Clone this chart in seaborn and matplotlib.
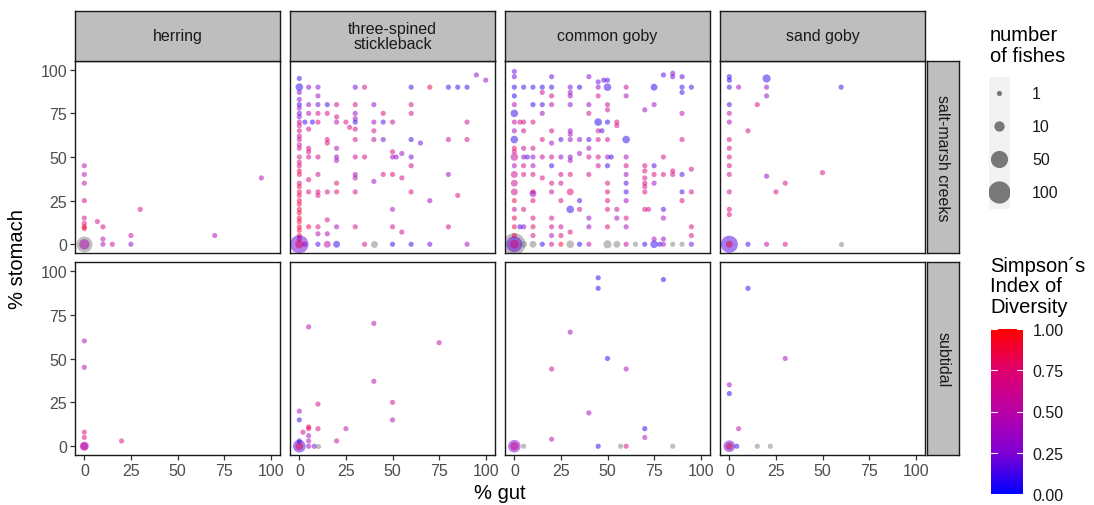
import numpy as np
import pandas as pd
import matplotlib
matplotlib.use("Agg")
import matplotlib.pyplot as plt
import seaborn as sns
from matplotlib.colors import LinearSegmentedColormap, Normalize
from matplotlib.cm import ScalarMappable

# ---------------------------------------------------------------------------
# data: (% gut, % stomach, Simpson's index (None = no prey), number of fishes)
# ---------------------------------------------------------------------------
species = ["herring", "three-spined\nstickleback", "common goby", "sand goby"]
habitats = ["salt-marsh creeks", "subtidal"]
axis_ticks = [0, 25, 50, 75, 100]
simpson_ticks = [0.0, 0.25, 0.5, 0.75, 1.0]
fish_breaks = [1, 10, 50, 100]

herring_marsh = [
    (0, 0, None, 40), (0, 0, 0.45, 10), (0, 45, 0.5, 1), (0, 40, 0.5, 1), (0, 35, 0.55, 1),
    (0, 25, 0.65, 1), (0, 15, 0.65, 1), (0, 12, 0.75, 1), (0, 10, 0.85, 1), (0, 9, 0.9, 1),
    (7, 13, 0.7, 1), (10, 10, 0.65, 1), (30, 20, 0.7, 1), (25, 5, 0.6, 1), (25, 0, 0.3, 1),
    (15, 0, 0.6, 1), (10, 3, 0.45, 1), (10, 0, 0.45, 1), (70, 5, 0.45, 1), (95, 38, 0.4, 1),
]

stickleback_marsh = [
    (0, 95, 0.1, 1), (95, 97, 0.25, 1), (100, 94, 0.35, 1),
    (0, 90, 0.05, 3), (5, 90, 0.25, 1), (10, 90, 0.25, 1), (30, 90, 0.2, 1), (35, 90, 0.6, 1),
    (60, 90, 0.1, 1), (70, 90, 0.8, 1), (80, 90, 0.1, 1), (85, 90, 0.1, 1), (90, 90, 0.1, 1),
    (0, 87, 0.3, 1), (10, 85, 0.35, 1), (0, 83, 0.3, 1),
    (0, 80, 0.1, 1), (5, 80, 0.35, 1), (10, 80, 0.2, 1), (15, 80, 0.1, 1), (20, 80, 0.6, 1),
    (30, 80, 0.65, 1), (40, 80, 0.3, 1), (60, 80, 0.65, 1), (0, 78, 0.35, 1),
    (0, 75, 0.2, 1), (5, 75, 0.5, 1), (10, 75, 0.65, 1), (15, 75, 0.65, 1), (30, 75, 0.3, 1),
    (45, 75, 0.7, 1), (60, 75, 0.6, 1), (20, 73, 0.65, 1), (30, 72, 0.4, 1), (0, 73, 0.3, 1),
    (0, 70, 0.55, 1), (3, 70, 0.1, 1), (7, 70, 0.1, 1), (10, 70, 0.7, 1), (20, 70, 0.5, 1),
    (25, 70, 0.7, 1), (30, 70, 0.1, 1), (40, 70, 0.4, 1), (45, 70, 0.15, 1), (50, 70, 0.55, 1),
    (90, 70, 0.6, 1), (27, 67, 0.7, 1), (5, 66, 0.7, 1), (30, 66, 0.7, 1), (0, 68, 0.6, 1),
    (0, 65, 0.7, 1), (40, 65, 0.65, 1), (0, 62, 0.55, 1),
    (0, 60, 0.6, 1), (15, 60, 0.7, 1), (30, 60, 0.65, 1), (40, 60, 0.55, 1), (45, 60, 0.2, 1),
    (60, 60, 0.1, 1), (80, 60, 0.6, 1), (90, 60, 0.7, 1), (15, 58, 0.7, 1), (65, 58, 0.25, 1),
    (0, 57, 0.6, 1), (0, 55, 0.6, 1), (5, 55, 0.65, 1), (20, 55, 0.4, 1),
    (5, 53, 0.7, 1), (50, 53, 0.7, 1), (55, 52, 0.4, 1),
    (0, 50, 0.7, 1), (5, 50, 0.65, 1), (10, 50, 0.65, 1), (20, 50, 0.35, 1), (30, 50, 0.6, 1),
    (35, 50, 0.7, 1), (50, 50, 0.4, 1), (52, 50, 0.3, 1), (60, 50, 0.2, 1), (20, 48, 0.4, 1),
    (0, 47, 0.7, 1), (0, 45, 0.7, 1), (60, 45, 0.6, 1), (0, 42, 0.8, 1),
    (0, 40, 0.8, 1), (10, 40, 0.6, 1), (30, 40, 0.4, 1), (45, 40, 0.7, 1), (50, 40, 0.7, 1),
    (80, 40, 0.35, 1), (30, 38, 0.45, 1), (55, 38, 0.7, 1), (40, 36, 0.35, 1),
    (0, 35, 0.7, 1), (5, 37, 0.7, 1), (20, 35, 0.75, 1), (0, 33, 0.85, 1),
    (0, 30, 0.85, 1), (5, 30, 0.7, 1), (10, 30, 0.7, 1), (15, 30, 0.65, 1), (20, 30, 0.75, 1),
    (30, 30, 0.7, 1), (60, 30, 0.7, 1), (10, 28, 0.7, 1), (85, 28, 0.7, 1), (0, 28, 0.85, 1),
    (0, 25, 0.85, 1), (70, 25, 0.35, 1), (0, 23, 0.85, 1),
    (0, 20, 0.85, 1), (50, 20, 0.4, 1), (0, 18, 0.9, 1),
    (0, 15, 0.9, 1), (15, 14, 0.7, 1), (0, 13, 0.9, 1),
    (0, 10, 0.9, 1), (5, 10, 0.85, 1), (10, 10, 0.75, 1), (20, 10, 0.4, 1), (30, 10, 0.65, 1),
    (50, 10, 0.65, 1), (80, 10, 0.65, 1), (0, 8, 0.9, 1),
    (55, 7, 0.6, 1), (10, 6, 0.45, 1), (15, 6, 0.45, 1), (0, 5, 0.9, 1), (0, 3, 0.9, 1),
    (0, 0, 0.2, 60), (0, 0, 0.8, 4), (3, 0, 0.4, 1), (10, 0, 0.15, 1), (15, 0, 0.55, 2),
    (20, 0, 0.1, 2), (35, 0, 0.65, 1), (40, 0, None, 2), (50, 0, 0.1, 1), (60, 0, 0.1, 1),
    (70, 0, 0.2, 1), (90, 0, 0.4, 1),
]

goby_marsh = [
    (0, 99, 0.2, 1), (0, 96, 0.2, 1), (20, 96, 0.2, 1), (40, 96, 0.25, 1), (45, 93, 0.2, 1),
    (48, 94, 0.15, 1), (50, 94, 0.15, 1), (80, 97, 0.15, 1), (85, 98, 0.25, 1), (85, 96, 0.2, 1),
    (90, 96, 0.15, 1),
    (0, 90, 0.05, 1), (5, 90, 0.1, 1), (10, 90, 0.1, 1), (15, 90, 0.05, 1), (20, 90, 0.1, 1),
    (30, 90, 0.2, 1), (35, 90, 0.05, 1), (45, 90, 0.3, 1), (50, 90, 0.1, 3), (60, 90, 0.6, 1),
    (75, 90, 0.05, 2), (90, 90, 0.1, 1), (95, 90, 0.1, 1),
    (15, 87, 0.65, 1), (30, 87, 0.35, 1), (90, 87, 0.1, 1),
    (0, 85, 0.05, 1), (20, 85, 0.65, 1), (30, 85, 0.35, 1), (45, 85, 0.65, 1), (60, 85, 0.4, 1),
    (0, 80, 0.5, 1), (10, 80, 0.05, 1), (15, 80, 0.15, 1), (20, 80, 0.55, 1), (30, 80, 0.25, 1),
    (40, 80, 0.35, 1), (50, 80, 0.5, 1), (75, 80, 0.35, 1), (50, 77, 0.65, 1), (70, 77, 0.35, 1),
    (0, 75, 0.1, 3), (15, 75, 0.35, 1), (40, 75, 0.65, 1), (90, 75, 0.5, 1),
    (0, 70, 0.55, 1), (3, 70, 0.65, 1), (5, 70, 0.65, 1), (10, 70, 0.7, 1), (45, 70, 0.05, 3),
    (50, 70, 0.05, 1), (55, 70, 0.65, 1), (55, 68, 0.65, 1),
    (0, 65, 0.4, 1), (5, 65, 0.65, 1), (20, 65, 0.7, 1), (30, 65, 0.35, 1), (45, 65, 0.65, 1),
    (47, 65, 0.15, 1), (30, 63, 0.4, 1),
    (0, 60, 0.1, 3), (15, 60, 0.7, 1), (25, 60, 0.15, 1), (30, 60, 0.35, 1), (35, 60, 0.3, 1),
    (40, 60, 0.15, 1), (45, 60, 0.65, 1), (50, 60, 0.65, 1), (60, 60, 0.1, 3), (90, 60, 0.65, 1),
    (20, 58, 0.35, 1),
    (0, 55, 0.8, 1), (5, 55, 0.6, 1), (10, 55, 0.65, 1), (40, 55, 0.4, 1), (0, 53, 0.7, 1),
    (35, 52, 0.35, 1),
    (0, 50, 0.55, 3), (5, 50, 0.3, 1), (7, 50, 0.15, 1), (10, 50, 0.3, 1), (15, 50, 0.55, 1),
    (20, 50, 0.6, 1), (25, 50, 0.3, 1), (30, 50, 0.3, 1), (40, 50, 0.65, 1), (45, 50, 0.65, 1),
    (50, 50, 0.4, 1), (52, 50, 0.1, 1), (60, 50, 0.4, 1), (80, 50, 0.65, 1), (30, 48, 0.35, 1),
    (0, 45, 0.45, 1), (5, 45, 0.65, 1), (10, 45, 0.4, 1), (20, 45, 0.1, 1), (45, 45, 0.65, 1),
    (50, 45, 0.1, 1), (60, 45, 0.7, 1), (70, 45, 0.7, 1), (75, 45, 0.15, 1),
    (95, 43, 0.7, 1), (85, 42, 0.7, 1), (70, 42, 0.7, 1),
    (0, 40, 0.6, 2), (5, 40, 0.7, 1), (10, 40, 0.65, 1), (25, 40, 0.6, 1), (30, 40, 0.75, 1),
    (40, 40, 0.6, 1), (60, 40, 0.35, 1), (75, 40, 0.7, 1), (80, 40, 0.7, 1), (85, 40, 0.7, 1),
    (90, 40, 0.15, 1), (15, 38, 0.7, 1), (70, 38, 0.7, 1),
    (0, 35, 0.6, 2), (20, 35, 0.7, 1), (25, 35, 0.6, 1), (50, 35, 0.7, 1), (60, 35, 0.15, 1),
    (70, 35, 0.7, 1), (75, 35, 0.35, 1), (70, 33, 0.7, 1),
    (0, 30, 0.6, 2), (10, 30, 0.7, 1), (20, 30, 0.6, 1), (30, 30, 0.75, 2), (50, 30, 0.7, 1),
    (60, 30, 0.15, 1), (70, 30, 0.7, 1), (90, 30, 0.15, 1), (95, 30, 0.7, 1), (10, 29, 0.35, 2),
    (0, 25, 0.85, 1), (10, 25, 0.7, 1), (25, 25, 0.7, 1), (35, 25, 0.15, 1), (50, 25, 0.7, 1),
    (60, 25, 0.35, 1), (90, 25, 0.7, 1),
    (0, 20, 0.6, 1), (5, 20, 0.7, 1), (30, 20, 0.1, 3), (35, 20, 0.7, 1), (50, 20, 0.7, 1),
    (55, 20, 0.6, 1), (70, 20, 0.7, 1), (72, 20, 0.6, 1), (80, 20, 0.15, 1),
    (0, 15, 0.85, 1), (10, 15, 0.7, 1), (20, 15, 0.7, 1), (40, 15, 0.35, 1), (55, 15, 0.4, 1),
    (60, 15, 0.7, 1), (80, 15, 0.4, 1),
    (0, 10, 0.85, 1), (3, 10, 0.1, 1), (5, 10, 0.3, 1), (10, 10, 0.8, 1), (20, 10, 0.6, 1),
    (25, 10, 0.55, 1), (40, 10, 0.35, 1), (50, 10, 0.7, 1), (60, 10, 0.4, 1), (95, 10, 0.7, 1),
    (30, 7, 0.7, 1), (0, 5, 0.85, 1), (10, 5, 0.7, 1), (20, 5, 0.4, 1), (25, 5, 0.7, 1),
    (95, 5, 0.7, 1), (75, 3, 0.4, 1), (80, 3, 0.35, 1),
    (0, 0, None, 100), (0, 0, 0.2, 40), (0, 0, 0.7, 5), (5, 0, None, 2), (10, 0, None, 2),
    (15, 0, 0.1, 1), (20, 0, 0.55, 1), (25, 0, 0.9, 1), (30, 0, None, 3), (35, 0, 0.05, 1),
    (40, 0, 0.55, 1), (50, 0, None, 4), (55, 0, None, 2), (60, 0, 0.55, 1), (65, 0, None, 1),
    (70, 0, 0.1, 1), (75, 0, 0.1, 3), (78, 0, 0.1, 1), (80, 0, 0.4, 1), (85, 0, None, 1),
    (90, 0, None, 1), (95, 0, 0.2, 1),
]

sandgoby_marsh = [
    (0, 96, 0.1, 1), (0, 94, 0.05, 1), (20, 95, 0.1, 4), (0, 90, 0.1, 1), (5, 90, 0.35, 1),
    (20, 90, 0.35, 1), (60, 90, 0.1, 1), (20, 85, 0.35, 1), (0, 80, 0.15, 1), (15, 80, 0.7, 1),
    (0, 75, 0.5, 1), (0, 70, 0.45, 1), (10, 65, 0.65, 1), (0, 60, 0.7, 1), (0, 55, 0.7, 1),
    (0, 50, 0.7, 1), (0, 45, 0.7, 1), (50, 41, 0.65, 1), (0, 40, 0.6, 1), (20, 39, 0.3, 1),
    (30, 35, 0.7, 1), (0, 30, 0.65, 1), (25, 30, 0.7, 1), (0, 20, 0.7, 1), (0, 17, 0.7, 1),
    (0, 0, 0.15, 50), (0, 0, 0.85, 2), (10, 0, 0.1, 1), (20, 0, 0.5, 1), (30, 0, 0.7, 1),
    (60, 0, None, 1),
]

herring_subtidal = [
    (0, 0, 0.45, 6), (0, 0, 0.5, 3), (0, 60, 0.45, 1), (0, 45, 0.45, 1), (0, 8, 0.7, 1),
    (0, 5, 0.7, 1), (20, 3, 0.7, 1),
]

stickleback_subtidal = [
    (0, 0, 0.15, 20), (0, 0, 0.85, 3), (5, 68, 0.45, 1), (40, 70, 0.45, 1), (75, 59, 0.5, 1),
    (40, 37, 0.45, 1), (10, 24, 0.65, 1), (50, 25, 0.65, 1), (50, 15, 0.45, 1), (0, 20, 0.4, 1),
    (0, 15, 0.1, 1), (5, 11, 0.85, 1), (5, 10, 0.75, 1), (10, 10, 0.7, 1), (2, 8, 0.65, 1),
    (5, 6, 0.4, 1), (25, 10, 0.45, 1), (5, 3, 0.4, 1), (20, 3, 0.6, 1), (0, 3, 0.1, 1),
    (5, 0, 0.35, 1), (8, 0, 0.25, 1), (10, 0, None, 1),
]

goby_subtidal = [
    (0, 0, 0.3, 20), (0, 0, 0.6, 4), (5, 0, None, 1), (45, 96, 0.05, 1), (45, 90, 0.05, 1),
    (80, 95, 0.05, 1), (30, 65, 0.4, 1), (50, 50, 0.05, 1), (20, 44, 0.55, 1), (60, 44, 0.45, 1),
    (40, 19, 0.4, 1), (70, 10, 0.05, 1), (70, 5, 0.45, 1), (20, 4, 0.5, 1), (45, 0, 0.05, 1),
    (57, 0, None, 1), (60, 0, 0.7, 1), (85, 0, None, 1),
]

sandgoby_subtidal = [
    (0, 0, 0.2, 15), (0, 0, 0.85, 2), (10, 90, 0.05, 1), (30, 50, 0.4, 1), (0, 35, 0.4, 1),
    (0, 30, 0.05, 1), (5, 10, 0.5, 1), (4, 0, 0.1, 1), (15, 0, None, 1), (22, 0, None, 1),
]

panels = [
    [herring_marsh, stickleback_marsh, goby_marsh, sandgoby_marsh],
    [herring_subtidal, stickleback_subtidal, goby_subtidal, sandgoby_subtidal],
]

# ---------------------------------------------------------------------------
# styling
# ---------------------------------------------------------------------------
sns.set_theme(style="white")
plt.rcParams["font.family"] = ["Liberation Sans", "DejaVu Sans"]

W, H = 1094, 506
fig = plt.figure(figsize=(W / 100, H / 100), dpi=100)


def rect(x0, y0, x1, y1):
    return [x0 / W, 1 - y1 / H, (x1 - x0) / W, (y1 - y0) / H]


cmap = LinearSegmentedColormap.from_list(
    "simpson",
    [(0.0, "#0000FF"), (0.25, "#8000D5"), (0.5, "#B800A6"), (0.75, "#E0006F"), (1.0, "#FF0000")],
)
norm = Normalize(0, 1)


def marker_area(n):
    d_px = 5.2 + 17.0 * np.sqrt((np.asarray(n, float) - 1) / 99)
    return (d_px * 0.72) ** 2


col_x = [(75, 280), (290, 495), (505, 710), (720, 925)]
row_y = [(62, 254), (263, 456)]
tick_col = "#333333"
txt_col = "#4D4D4D"
strip_fill = "#BEBEBE"

for r, (y0, y1) in enumerate(row_y):
    for c, (x0, x1) in enumerate(col_x):
        ax = fig.add_axes(rect(x0, y0, x1, y1))
        df = pd.DataFrame(panels[r][c], columns=["gut", "stomach", "simpson", "n"])
        df["simpson"] = pd.to_numeric(df["simpson"])
        empty = df[df["simpson"].isna()]
        filled = df[df["simpson"].notna()]
        if len(empty):
            sns.scatterplot(data=empty, x="gut", y="stomach", size="n",
                            sizes={v: float(marker_area(v)) for v in empty["n"].unique()},
                            color="#7F7F7F", alpha=0.5, linewidth=0, legend=False, ax=ax)
        sns.scatterplot(data=filled, x="gut", y="stomach", hue="simpson", palette=cmap,
                        hue_norm=(0, 1), size="n",
                        sizes={v: float(marker_area(v)) for v in filled["n"].unique()},
                        alpha=0.5, linewidth=0, legend=False, ax=ax)
        ax.set_xlim(-5, 105)
        ax.set_ylim(-5, 105)
        ax.set_xticks(axis_ticks)
        ax.set_yticks(axis_ticks)
        ax.set_xlabel("")
        ax.set_ylabel("")
        ax.set_facecolor("white")
        for sp in ax.spines.values():
            sp.set_visible(True)
            sp.set_color("#1A1A1A")
            sp.set_linewidth(1.0)
        ax.tick_params(axis="both", length=3.5, width=0.9, color=tick_col,
                       labelsize=11.5, labelcolor=txt_col, pad=2)
        ax.tick_params(axis="x", bottom=(r == 1), labelbottom=(r == 1))
        ax.tick_params(axis="y", left=(c == 0), labelleft=(c == 0))

        # top strips
        if r == 0:
            sax = fig.add_axes(rect(x0, 12, x1, 62))
            sax.set_facecolor(strip_fill)
            sax.set_xticks([])
            sax.set_yticks([])
            for sp in sax.spines.values():
                sp.set_color("#1A1A1A")
                sp.set_linewidth(1.0)
            sax.text(0.5, 0.5, species[c], ha="center", va="center", fontsize=11.5,
                     color="#1A1A1A", transform=sax.transAxes, linespacing=1.05)

    # right strips
    rax = fig.add_axes(rect(927, y0, 959, y1))
    rax.set_facecolor(strip_fill)
    rax.set_xticks([])
    rax.set_yticks([])
    for sp in rax.spines.values():
        sp.set_color("#1A1A1A")
        sp.set_linewidth(1.0)
    rax.text(0.5, 0.5, habitats[r], ha="center", va="center", rotation=-90, fontsize=11.5,
             color="#1A1A1A", transform=rax.transAxes)

# axis titles
fig.text(18 / W, 1 - 259 / H, "% stomach", rotation=90, ha="center", va="center",
         fontsize=14.5, color="black")
fig.text(500 / W, 1 - 494 / H, "% gut", ha="center", va="center", fontsize=14.5,
         color="black")

# size legend
fig.text(990 / W, 1 - 46 / H, "number\nof fishes", ha="left", va="center", fontsize=14.5,
         color="black", linespacing=1.1)
lax = fig.add_axes(rect(989, 78, 1010, 210))
lax.set_facecolor("#F2F2F2")
for sp in lax.spines.values():
    sp.set_visible(False)
lax.set_xticks([])
lax.set_yticks([])
key_df = pd.DataFrame({"x": [0.5] * len(fish_breaks),
                       "y": np.arange(len(fish_breaks)) + 0.5,
                       "n": fish_breaks})
sns.scatterplot(data=key_df, x="x", y="y", size="n",
                sizes={v: float(marker_area(v)) for v in fish_breaks},
                color="black", alpha=0.5, linewidth=0, legend=False, ax=lax)
lax.set_xlabel("")
lax.set_ylabel("")
lax.set_xlim(0, 1)
lax.set_ylim(len(fish_breaks), 0)
for i, b in enumerate(fish_breaks):
    fig.text(1032 / W, 1 - (78 + 33 * (i + 0.5)) / H, str(b), ha="left", va="center",
             fontsize=11.5, color="#1A1A1A")

# colour legend
fig.text(990 / W, 1 - 287 / H, "Simpson\u00b4s\nIndex of\nDiversity", ha="left",
         va="center", fontsize=14.5, color="black", linespacing=1.1)
cax = fig.add_axes(rect(991, 330, 1023, 495))
cb = fig.colorbar(ScalarMappable(norm=norm, cmap=cmap), cax=cax)
cb.outline.set_visible(False)
cb.set_ticks(simpson_ticks)
cb.set_ticklabels([f"{t:.2f}" for t in simpson_ticks])
cax.tick_params(length=0, labelsize=11.5, labelcolor="#1A1A1A", pad=7)
for t in simpson_ticks:
    cax.plot([0, 0.2], [t, t], color="white", lw=0.8, transform=cax.get_yaxis_transform())
    cax.plot([0.8, 1], [t, t], color="white", lw=0.8, transform=cax.get_yaxis_transform())

fig.savefig("out.png", dpi=100, facecolor="white")
